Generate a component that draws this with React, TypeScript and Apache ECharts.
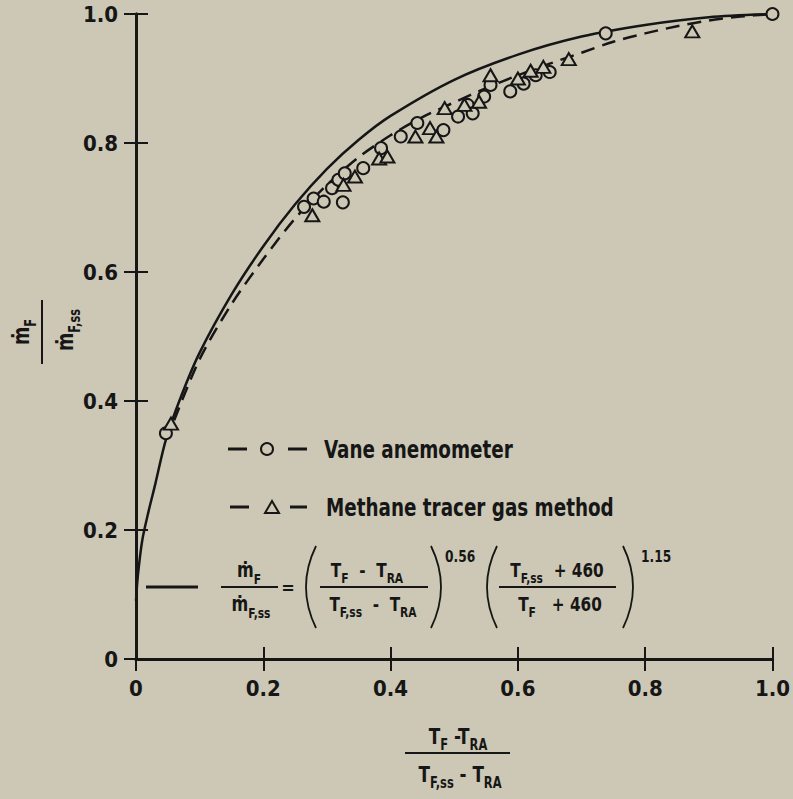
import React, { useEffect, useRef } from "react";
import * as echarts from "echarts";

// ---------- data ----------
const xTickValues = [0, 0.2, 0.4, 0.6, 0.8, 1.0];
const yTickValues = [0, 0.2, 0.4, 0.6, 0.8, 1.0];

const vaneX = [0.047, 0.264, 0.279, 0.295, 0.308, 0.318, 0.325, 0.328, 0.357, 0.385, 0.416, 0.442, 0.483, 0.506, 0.521, 0.529, 0.547, 0.557, 0.588, 0.609, 0.628, 0.65, 0.738, 1.0];
const vaneY = [0.35, 0.701, 0.714, 0.709, 0.73, 0.743, 0.708, 0.753, 0.761, 0.792, 0.81, 0.831, 0.82, 0.841, 0.859, 0.846, 0.872, 0.89, 0.88, 0.892, 0.905, 0.91, 0.97, 1.0];

const methaneX = [0.055, 0.277, 0.326, 0.344, 0.382, 0.395, 0.439, 0.462, 0.472, 0.485, 0.516, 0.539, 0.557, 0.6, 0.62, 0.64, 0.68, 0.874];
const methaneY = [0.365, 0.688, 0.735, 0.748, 0.776, 0.779, 0.81, 0.823, 0.81, 0.854, 0.859, 0.864, 0.905, 0.9, 0.912, 0.918, 0.93, 0.973];

const formulaX = [0, 0.003, 0.01, 0.02, 0.03, 0.047, 0.07, 0.1, 0.15, 0.2, 0.25, 0.3, 0.35, 0.4, 0.5, 0.6, 0.7, 0.8, 0.9, 1.0];
const formulaY = [0.09, 0.13, 0.185, 0.23, 0.27, 0.34, 0.405, 0.475, 0.565, 0.64, 0.705, 0.76, 0.805, 0.842, 0.898, 0.937, 0.965, 0.983, 0.995, 1.0];

const dashX = [0.06, 0.1, 0.15, 0.2, 0.25, 0.3, 0.35, 0.4, 0.45, 0.5, 0.55, 0.6, 0.65, 0.7, 0.75, 0.8, 0.85, 0.9, 0.95, 1.0];
const dashY = [0.37, 0.465, 0.55, 0.62, 0.683, 0.735, 0.778, 0.812, 0.84, 0.863, 0.885, 0.905, 0.923, 0.94, 0.957, 0.97, 0.981, 0.99, 0.996, 1.0];

const legendVane = "Vane anemometer";
const legendMethane = "Methane tracer gas method";

// ---------- style ----------
const BG = "#ccc8b5";
const INK = "#161616";
const FONT = "'Liberation Sans Narrow', 'Arial Narrow', 'DejaVu Sans Condensed', 'Liberation Sans', sans-serif";
const NARROW = 0.85;

const pairs = (xs: number[], ys: number[]) => xs.map((x, i) => [x, ys[i]]);

const richSet = (size: number, sub: number) => ({
  m: { fontSize: size, fontWeight: "bold", fontFamily: FONT, fill: INK, lineHeight: Math.round(size * 1.5) },
  s: { fontSize: sub, fontWeight: "bold", fontFamily: FONT, fill: INK, lineHeight: sub, verticalAlign: "bottom" },
});

const richText = (x: number, y: number, text: string, size: number, sub: number, align = "center", sx = 1) => ({
  type: "text",
  x,
  y,
  scaleX: sx,
  style: {
    text,
    fill: INK,
    fontSize: size,
    fontWeight: "bold",
    fontFamily: FONT,
    align,
    verticalAlign: "middle",
    rich: richSet(size, sub),
  },
});

const plainText = (x: number, y: number, text: string, size: number, align = "left", sx = 1) => ({
  type: "text",
  x,
  y,
  scaleX: sx,
  style: { text, fill: INK, fontSize: size, fontWeight: "bold", fontFamily: FONT, align, verticalAlign: "middle" },
});

const hLine = (x1: number, x2: number, y: number, w = 2) => ({
  type: "line",
  shape: { x1, y1: y, x2, y2: y },
  style: { stroke: INK, lineWidth: w },
});

const paren = (xEdge: number, xMid: number, y1: number, y2: number) => ({
  type: "bezierCurve",
  shape: { x1: xEdge, y1, x2: xEdge, y2, cpx1: xMid, cpy1: (y1 + y2) / 2 },
  style: { stroke: INK, lineWidth: 1.8, fill: null },
});

export default function App() {
  const ref = useRef<HTMLDivElement>(null);

  useEffect(() => {
    if (!ref.current) return;
    const chart = echarts.init(ref.current, undefined, { renderer: "svg" });

    const axisCommon = {
      type: "value",
      min: xTickValues[0],
      max: xTickValues[xTickValues.length - 1],
      interval: 0.2,
      axisLine: { show: true, lineStyle: { color: INK, width: 3 } },
      axisTick: { show: true, inside: true, length: 12, lineStyle: { color: INK, width: 2 } },
      splitLine: { show: false },
    };
    const yCommon = { ...axisCommon, min: yTickValues[0], max: yTickValues[yTickValues.length - 1] };
    const labelStyle = {
      color: INK,
      fontSize: 22,
      fontWeight: "bold",
      fontFamily: FONT,
      formatter: (v: number) => (v === 0 ? "0" : v.toFixed(1)),
    };

    const graphics: any[] = [
      // legend: vane anemometer
      hLine(228, 247, 449, 3),
      { type: "circle", shape: { cx: 267, cy: 449, r: 6 }, style: { stroke: INK, lineWidth: 2, fill: BG } },
      hLine(288, 307, 449, 3),
      plainText(324, 449, legendVane, 24, "left", NARROW),
      // legend: methane
      hLine(230, 249, 507, 3),
      { type: "polygon", shape: { points: [[272, 501], [265, 513], [279, 513]] }, style: { stroke: INK, lineWidth: 2, fill: BG } },
      hLine(290, 307, 507, 3),
      plainText(326, 507, legendMethane, 24, "left", NARROW),
      // legend: formula line
      hLine(146, 198, 587, 3),
      // equation
      richText(249, 570, "{m|ṁ}{s|F}", 21, 14, "center", NARROW),
      hLine(221, 278, 587, 2),
      richText(251, 604, "{m|ṁ}{s|F,ss}", 21, 14, "center", NARROW),
      plainText(288, 587, "=", 18, "center"),
      paren(316, 296, 546, 628),
      richText(367, 570, "{m|T}{s|F}{m|  -  T}{s|RA}", 20, 14, "center", NARROW),
      hLine(320, 428, 587, 2),
      richText(373, 604, "{m|T}{s|F,ss}{m|  -  T}{s|RA}", 20, 14, "center", NARROW),
      paren(431, 451, 546, 628),
      plainText(445, 556, "0.56", 16, "left", NARROW),
      paren(497, 477, 546, 628),
      richText(557, 570, "{m|T}{s|F,ss}{m|  + 460}", 20, 14, "center", NARROW),
      hLine(499, 616, 587, 2),
      richText(560, 604, "{m|T}{s|F}{m|   + 460}", 20, 14, "center", NARROW),
      paren(623, 643, 546, 628),
      plainText(641, 556, "1.15", 16, "left", NARROW),
      // x axis title
      richText(458, 736, "{m|T}{s|F}{m| -T}{s|RA}", 22, 15, "center", NARROW),
      hLine(405, 510, 753, 2),
      richText(460, 774, "{m|T}{s|F,ss}{m| - T}{s|RA}", 22, 15, "center", NARROW),
      // y axis title (rotated)
      {
        type: "group",
        x: 42,
        y: 332,
        rotation: Math.PI / 2,
        children: [
          richText(0, -21, "{m|ṁ}{s|F}", 23, 15, "center", NARROW),
          hLine(-32, 32, 0, 2),
          richText(2, 23, "{m|ṁ}{s|F,ss}", 23, 15, "center", NARROW),
        ],
      },
    ];

    chart.setOption({
      animation: false,
      backgroundColor: BG,
      grid: { left: 136, right: 9, top: 14, bottom: 140, containLabel: false },
      xAxis: [
        { ...axisCommon, position: "bottom", axisLabel: { ...labelStyle, margin: 18 } },
        { ...axisCommon, position: "top", axisLabel: { show: false } },
      ],
      yAxis: [
        { ...yCommon, position: "left", axisLabel: { ...labelStyle, margin: 18 } },
        { ...yCommon, position: "right", axisLabel: { show: false } },
      ],
      series: [
        {
          name: "Formula",
          type: "line",
          data: pairs(formulaX, formulaY),
          smooth: 0.3,
          showSymbol: false,
          lineStyle: { color: INK, width: 2.5 },
          z: 2,
        },
        {
          name: "Fit",
          type: "line",
          data: pairs(dashX, dashY),
          smooth: 0.3,
          showSymbol: false,
          lineStyle: { color: INK, width: 2.5, type: [14, 8] },
          z: 2,
        },
        {
          name: legendVane,
          type: "scatter",
          data: pairs(vaneX, vaneY),
          symbol: "circle",
          symbolSize: 12,
          itemStyle: { color: BG, borderColor: INK, borderWidth: 2, opacity: 1 },
          z: 3,
        },
        {
          name: legendMethane,
          type: "scatter",
          data: pairs(methaneX, methaneY),
          symbol: "triangle",
          symbolSize: [14, 12],
          itemStyle: { color: BG, borderColor: INK, borderWidth: 2, opacity: 1 },
          z: 3,
        },
      ],
      graphic: graphics,
    });

    return () => chart.dispose();
  }, []);

  return <div ref={ref} style={{ position: "absolute", left: 0, top: 0, width: 793, height: 799 }} />;
}
